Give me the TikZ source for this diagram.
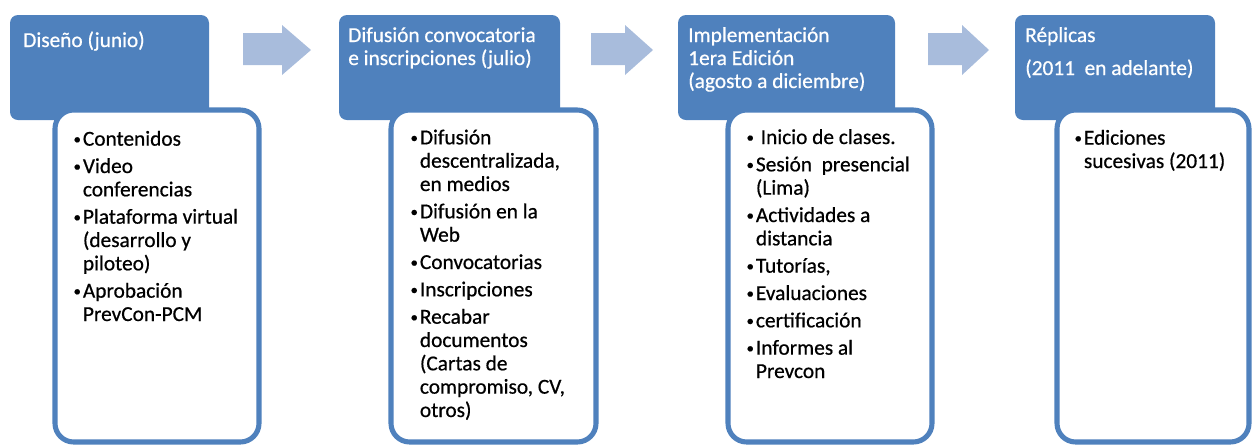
\documentclass[tikz,border=0pt]{standalone}
\usepackage{fontspec}
\setmainfont{Carlito}[UprightFeatures={FakeBold=0.6}]
\usetikzlibrary{calc}
\usetikzlibrary{positioning}
\definecolor{headblue}{RGB}{79,129,189}
\definecolor{arrowblue}{RGB}{168,188,220}

\newcommand{\bul}{\makebox[8pt][l]{\hspace{1pt}\raisebox{1.3pt}{\fontsize{11}{11}\selectfont •}}}
\newcommand{\hang}{\hspace*{8pt}}

\tikzset{
	headbox/.style={fill=headblue, rounded corners=6pt},
	bodybox/.style={draw=headblue, fill=white, line width=3.8pt, rounded corners=14pt},
	% base anchor of a multi-line node = baseline of its last line
	headtext/.style={anchor=base west, inner sep=0pt, align=left, text=white, font=\fontsize{16}{17.25}\selectfont},
	bodytext/.style={anchor=base west, inner sep=0pt, align=left, font=\fontsize{16}{17.5}\selectfont},
}

\begin{document}
\begin{tikzpicture}[x=0.75pt, y=-0.75pt]
		\useasboundingbox (0,0) rectangle (1253,444);

		% block arrows between the stages
		\foreach \xa/\xb/\xc in {243/282/311, 591/625/653, 928/962/989}
			\fill[arrowblue] (\xa,33) -- (\xb,33) -- (\xb,25) -- (\xc,50) -- (\xb,75) -- (\xb,65) -- (\xa,65) -- cycle;

		% stage 1
		\fill[headbox] (10,15) rectangle (209,120);
		\draw[bodybox] (55,110) rectangle (259,442);
		\node[headtext] (dis-head) at (23,47) {Diseño (junio)};
		\node[bodytext] (dis-body) at (72,321) {\bul Contenidos\\[3pt]
			\bul Video\\ \hang conferencias\\[3pt]
			\bul Plataforma virtual\\ \hang (desarrollo y\\ \hang piloteo)\\[3pt]
			\bul Aprobación\\ \hang PrevCon-PCM};

		% stage 2
		\fill[headbox] (339,15) rectangle (560,120);
		\draw[bodybox] (391,110) rectangle (596,442);
		\node[headtext] (dif-head) at (348,65) {Difusión convocatoria\\ e inscripciones (julio)};
		\node[bodytext] (dif-body) at (409,417) {\bul Difusión\\ \hang descentralizada,\\ \hang en medios\\[3pt]
			\bul Difusión en la\\ \hang Web\\[3pt]
			\bul Convocatorias\\[3pt]
			\bul Inscripciones\\[3pt]
			\bul Recabar\\ \hang documentos\\ \hang (Cartas de\\ \hang compromiso, CV,\\ \hang otros)};

		% stage 3
		\fill[headbox] (678,15) rectangle (895,120);
		\draw[bodybox] (728,110) rectangle (932,442);
		\node[headtext] (imp-head) at (688,88) {Implementación\\ 1era Edición\\ (agosto a diciembre)};
		\node[bodytext] (imp-body) at (745,378) {\bul\ Inicio de clases.\\[3pt]
			\bul Sesión\ \ presencial\\ \hang (Lima)\\[3pt]
			\bul Actividades a\\ \hang distancia\\[3pt]
			\bul Tutorías,\\[3pt]
			\bul Evaluaciones\\[3pt]
			\bul certificación\\[3pt]
			\bul Informes al\\ \hang Prevcon};

		% stage 4
		\fill[headbox] (1015,15) rectangle (1215,120);
		\draw[bodybox] (1057,110) rectangle (1249,442);
		\node[headtext] (rep-head) at (1025,75) {Réplicas\\[7.5pt] (2011\ \ en adelante)};
		\node[bodytext] (rep-body) at (1073,168) {\bul Ediciones\\ \hang sucesivas (2011)};
	\end{tikzpicture}
\end{document}
